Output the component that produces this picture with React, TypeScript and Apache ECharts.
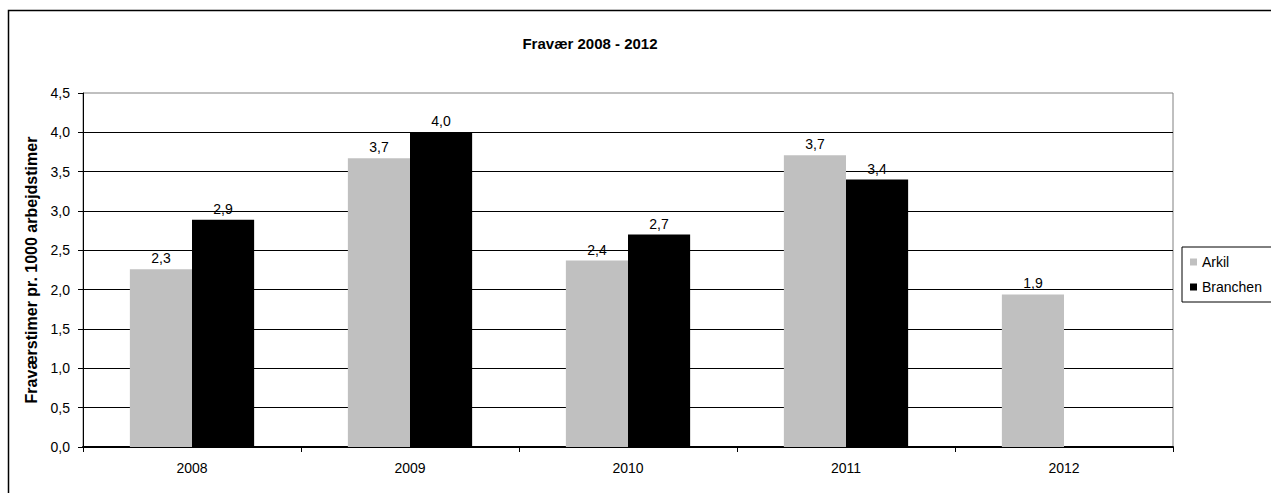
import React, { useEffect, useRef } from "react";
import * as echarts from "echarts";

const categories = ["2008", "2009", "2010", "2011", "2012"];
const arkilValues = [2.26, 3.67, 2.37, 3.71, 1.94];
const branchenValues: (number | null)[] = [2.89, 4.0, 2.7, 3.4, null];
const seriesNames = ["Arkil", "Branchen"];
const chartTitle = "Fravær 2008 - 2012";
const yAxisTitle = "Fraværstimer pr. 1000 arbejdstimer";
const yMin = 0;
const yMax = 4.5;
const yStep = 0.5;

const FONT = "Liberation Sans, Arial, sans-serif";
const fmt = (v: number) => v.toFixed(1).replace(".", ",");

export default function App() {
  const ref = useRef<HTMLDivElement>(null);
  useEffect(() => {
    if (!ref.current) return;
    const chart = echarts.init(ref.current, null, { renderer: "svg" });
    const labelCfg = {
      show: true,
      position: "top" as const,
      distance: 4,
      color: "#000",
      fontFamily: FONT,
      fontSize: 14,
      formatter: (p: any) => (p.value == null ? "" : fmt(p.value)),
    };
    chart.setOption({
      animation: false,
      backgroundColor: "#fff",
      textStyle: { fontFamily: FONT },
      grid: {
        left: 83,
        right: 98,
        top: 93,
        bottom: 46,
        show: true,
        borderColor: "#808080",
        borderWidth: 1,
        backgroundColor: "transparent",
      },
      legend: {
        orient: "vertical",
        left: 1182,
        top: 247,
        borderColor: "#000",
        borderWidth: 1,
        padding: [8, 12, 8, 8],
        itemWidth: 7,
        itemHeight: 7,
        itemGap: 11,
        icon: "rect",
        data: seriesNames,
        textStyle: { fontFamily: FONT, fontSize: 14, color: "#000" },
      },
      xAxis: {
        type: "category",
        data: categories,
        axisLine: { show: true, lineStyle: { color: "#000", width: 2 } },
        axisTick: { show: true, alignWithLabel: false, length: 5, lineStyle: { color: "#000" } },
        axisLabel: { color: "#000", fontFamily: FONT, fontSize: 14, margin: 14 },
        splitLine: { show: false },
      },
      yAxis: {
        type: "value",
        min: yMin,
        max: yMax,
        interval: yStep,
        name: yAxisTitle,
        nameLocation: "middle",
        nameRotate: 90,
        nameGap: 42,
        nameTextStyle: { fontFamily: FONT, fontSize: 16, fontWeight: "bold", color: "#000" },
        axisLine: { show: true, lineStyle: { color: "#000", width: 1 } },
        axisTick: { show: true, length: 5, lineStyle: { color: "#000" } },
        axisLabel: { color: "#000", fontFamily: FONT, fontSize: 14, margin: 13, formatter: (v: number) => fmt(v) },
        splitLine: { show: true, showMaxLine: false, lineStyle: { color: "#000", width: 1 } },
      },
      series: [
        {
          name: seriesNames[0],
          type: "bar",
          data: arkilValues,
          barGap: "0%",
          barCategoryGap: "43%",
          itemStyle: { color: "#C0C0C0" },
          label: labelCfg,
        },
        {
          name: seriesNames[1],
          type: "bar",
          data: branchenValues,
          barGap: "0%",
          barCategoryGap: "43%",
          itemStyle: { color: "#000000" },
          label: labelCfg,
        },
      ],
      graphic: [
        {
          type: "rect",
          shape: { x: 8.5, y: 10.5, width: 1400, height: 600 },
          style: { fill: "none", stroke: "#000", lineWidth: 1.5 },
          silent: true,
        },
        {
          type: "text",
          x: 590,
          y: 43,
          style: {
            text: chartTitle,
            fontFamily: FONT,
            fontSize: 15,
            fontWeight: "bold",
            fill: "#000",
            align: "center",
            verticalAlign: "middle",
          },
        },
      ],
    });
    return () => chart.dispose();
  }, []);
  return (
    <div
      ref={ref}
      style={{ position: "fixed", left: 0, top: 0, width: 1271, height: 493 }}
    />
  );
}
